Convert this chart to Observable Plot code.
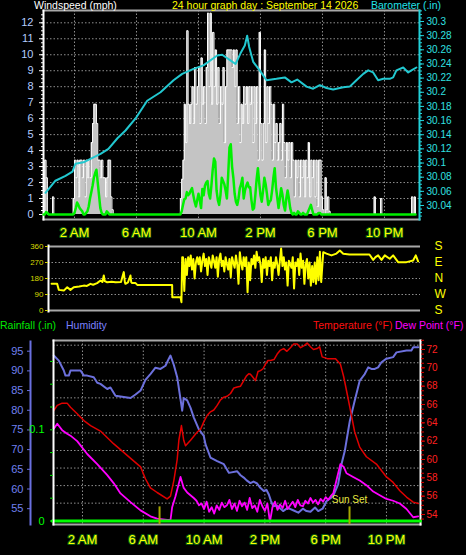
<!DOCTYPE html>
<html><head><meta charset="utf-8">
<script src="https://cdn.jsdelivr.net/npm/d3@7"></script>
<script src="https://cdn.jsdelivr.net/npm/@observablehq/plot@0.6"></script>
<style>
html,body{margin:0;padding:0;background:#000;}
#chart{position:relative;width:466px;height:555px;background:#000;overflow:hidden;font-family:"Liberation Sans",Arial,sans-serif;}
#chart svg{position:absolute;left:0;top:0;}
.lbl{position:absolute;font-size:10.5px;line-height:11px;white-space:nowrap;}
</style></head><body>
<div id="chart"></div>
<script>
// ---------- time axis ----------
const xTickHours = [2, 6, 10, 14, 18, 22];
const xTickLabels = ["2 AM", "6 AM", "10 AM", "2 PM", "6 PM", "10 PM"];

// ---------- windspeed (mph), 5-minute samples from midnight ----------
const windTicks = [0,1,2,3,4,5,6,7,8,9,10,11,12];
const windGust5min = [
/*00*/ 0,3.4,2.3,0,0,0,0,1.1,0,0,0,0,
/*01*/ 0,0,0,0,0,0,0,0,0,0,0,1.0,
/*02*/ 3.4,2.3,3.4,1.1,3.4,3.4,2.3,3.4,1.1,3.4,2.3,3.4,
/*03*/ 2.3,4.5,5.7,6.9,6.9,5.7,3.4,3.4,2.3,3.4,2.3,2.3,
/*04*/ 1.1,2.3,3.4,3.4,1.1,0.3,0,0,0,0,0,0,
/*05*/ 0,0,0,0,0,0,0,0,0,0,0,0,
/*06*/ 0,0,0,0,0,0,0,0,0,0,0,0,
/*07*/ 0,0,0,0,0,0,0,0,0,0,0,0,
/*08*/ 0,0,0,0,0,0,0,0,0,0,1.0,2.2,
/*09*/ 3.4,6.9,4.5,11.5,6.9,5.7,6.9,8.0,5.7,9.2,6.9,8.0,
/*10*/ 9.2,5.7,9.8,6.9,8.0,5.7,9.2,12.6,8.0,12.6,6.9,11.4,
/*11*/ 8.0,10.3,6.9,9.2,5.7,8.0,6.9,9.2,4.5,8.0,10.3,10.3,
/*12*/ 10.3,10.3,9.2,10.3,8.0,10.3,5.7,8.0,4.5,6.9,5.7,8.0,
/*13*/ 6.9,8.0,5.7,8.0,6.9,8.0,4.5,8.0,5.7,8.0,3.4,11.4,
/*14*/ 5.7,3.4,5.7,10.3,4.5,8.0,5.7,8.0,6.9,3.4,6.9,4.5,
/*15*/ 5.7,3.4,4.5,5.7,3.4,6.9,4.5,2.3,4.5,3.4,4.5,2.3,
/*16*/ 4.5,3.4,1.1,3.4,2.3,3.4,1.1,3.4,2.3,3.4,1.1,3.4,
/*17*/ 2.3,4.5,1.1,3.4,2.3,3.4,1.1,3.4,0.5,3.4,3.4,1.1,
/*18*/ 0.3,0,2.3,0.3,1.1,0.2,0,0,0,0,0,0,
/*19*/ 0,0,0,0,0,0,0,0,0,0,0,0,
/*20*/ 0,0,0,0,0,0,0,0,0,0,0,0,
/*21*/ 0,0,0,0,1.1,0,0,0,0,1.0,0,0,
/*22*/ 0,0,0,0,0,0,0,0,0,0,0,0,
/*23*/ 0,0,0,0,0,0,0,0,0,1.1,0,1.1,
/*24*/ 0
];
const windAvg5min = [
/*00*/ 0,0,0.15,0.1,0,0,0,0,0,0,0,0,
/*01*/ 0,0,0,0,0,0,0,0,0,0,0,0,
/*02*/ 0.1,0.4,0.75,0.6,0.4,0.3,0.2,0,0,0.1,0.2,0.5,
/*03*/ 1.0,1.4,1.8,2.3,2.6,2.8,2.0,1.2,0.4,0.1,0,0,
/*04*/ 0,0.2,0.1,0,0,0,0,0,0,0,0,0,
/*05*/ 0,0,0,0,0,0,0,0,0,0,0,0,
/*06*/ 0,0,0,0,0,0,0,0,0,0,0,0,
/*07*/ 0,0,0,0,0,0,0,0,0,0,0,0,
/*08*/ 0,0,0,0,0,0,0,0,0,0,0,0.2,
/*09*/ 0.6,0.95,1.0,1.4,1.2,1.3,1.5,1.65,1.2,0.8,0.5,0.9,
/*10*/ 1.3,0.9,0.4,1.6,1.2,1.8,2.0,2.1,1.3,1.0,1.8,2.8,
/*11*/ 3.5,3.3,1.5,0.9,0.6,1.2,2.3,2.1,1.9,1.5,1.0,2.5,
/*12*/ 4.2,4.4,3.0,2.3,1.3,0.8,0.6,1.0,1.65,1.9,2.3,1.0,
/*13*/ 1.5,1.8,2.0,1.7,1.7,0.9,0.3,0.4,1.2,2.2,2.9,2.0,
/*14*/ 1.2,0.8,1.5,2.3,1.9,1.3,0.6,0.8,0.9,1.5,2.3,2.9,
/*15*/ 1.7,1.05,0.4,1.0,1.65,1.25,0.6,0.25,1.0,1.5,1.0,0.4,
/*16*/ 0.1,0,0.1,0,0,0.2,0.1,0,0,0.1,0,0,
/*17*/ 0,0.2,0.4,0.6,0.3,0,0,0,0,0.1,0.1,0,
/*18*/ 0,0,0,0,0,0,0,0,0,0,0,0,
/*19*/ 0,0,0,0,0,0,0,0,0,0,0,0,
/*20*/ 0,0,0,0,0,0,0,0,0,0,0,0,
/*21*/ 0,0,0,0,0,0,0,0,0,0,0,0,
/*22*/ 0,0,0,0,0,0,0,0,0,0,0,0,
/*23*/ 0,0,0,0,0,0,0,0,0,0,0,0,
/*24*/ 0
];

// ---------- barometer (in) ----------
const baroTicks = [30.04,30.06,30.08,30.1,30.12,30.14,30.16,30.18,30.2,30.22,30.24,30.26,30.28,30.3];
const baroTimes = [0.13,0.77,1.42,1.87,2.06,2.58,3.03,3.68,4.19,4.77,5.29,5.94,6.69,7.55,8.39,8.95,9.68,10.32,11.21,11.53,12.06,12.39,12.71,12.99,13.14,13.27,13.53,13.95,14.39,15.03,15.57,16.0,16.37,16.97,17.4,17.83,18.26,18.69,19.34,19.76,20.19,20.63,20.95,21.27,21.59,21.92,22.34,22.56,22.77,23.21,23.53,23.74,24.06];
const baroValues = [30.058,30.075,30.082,30.088,30.099,30.101,30.106,30.113,30.12,30.135,30.146,30.163,30.188,30.2,30.217,30.226,30.233,30.238,30.252,30.253,30.245,30.24,30.255,30.266,30.28,30.264,30.243,30.231,30.217,30.219,30.221,30.214,30.218,30.208,30.205,30.21,30.206,30.204,30.207,30.208,30.217,30.226,30.231,30.228,30.217,30.219,30.219,30.221,30.231,30.235,30.228,30.231,30.235];

// ---------- wind direction (deg) ----------
const dirTicks = [0, 90, 180, 270, 360];
const dirTickLetters = ["S", "W", "N", "E", "S"];
const dirMorning = [[0.52,150],[0.88,150],[0.95,128],[0.99,116],[1.31,112],[1.53,131],[1.74,116],[1.95,131],[2.3,135],[2.6,140],[2.8,138],[3.03,150],[3.2,145],[3.46,154],[3.68,169],[3.8,160],[3.89,197],[3.95,165],[4.11,159],[4.4,162],[4.65,159],[5.0,160],[5.18,216],[5.25,160],[5.29,150],[5.45,158],[5.61,197],[5.66,160],[5.72,154],[5.94,154],[6.05,144],[8.3,144],[8.31,75],[8.84,75],[8.9,47],[8.95,300]];
const dirDaytime5min = [ // from 09:00
/*09*/ 300,110,290,200,300,250,310,230,290,180,270,300,
/*10*/ 260,300,220,280,320,250,290,200,300,270,240,310,
/*11*/ 280,240,300,190,290,320,250,280,220,300,260,230,
/*12*/ 290,187,300,270,240,310,260,150,328,270,230,300,
/*13*/ 250,300,103,270,170,290,260,310,240,330,280,300,
/*14*/ 260,160,290,240,300,200,280,250,300,170,270,240,
/*15*/ 300,260,200,280,349,250,300,230,270,140,280,260,
/*16*/ 240,300,124,270,250,290,200,320,240,280,150,260,
/*17*/ 290,180,270,140,250,160,270,150,300,170,330,160
];
const dirEvening = [[18.05,328],[18.26,320],[18.58,310],[18.9,320],[19.12,337],[19.34,319],[19.74,315],[21.03,315],[21.27,285],[21.42,300],[21.59,310],[21.81,285],[22.02,310],[22.34,291],[22.56,310],[22.88,272],[23.42,272],[23.85,281],[24.02,310],[24.17,276]];

// ---------- humidity (%) ----------
const humTicks = [55,60,65,70,75,80,85,90,95];
const humidity = [[0.11,93.9],[0.44,92.6],[0.77,90.1],[0.88,88.8],[1.1,88.8],[1.21,90.1],[1.87,90.1],[2.09,88.8],[2.31,88.8],[2.74,88.4],[2.97,87.0],[3.18,86.7],[3.63,85.4],[3.84,85.8],[4.17,83.7],[5.16,83.1],[5.49,84.0],[5.82,85.0],[6.14,87.7],[6.47,89.2],[6.8,90.8],[7.13,90.5],[7.46,91.3],[7.68,93.1],[7.79,93.9],[8.01,91.5],[8.23,88.4],[8.45,82.8],[8.56,79.9],[8.66,83.1],[8.89,82.5],[9.11,80.6],[9.32,78.2],[9.65,75.2],[9.98,73.5],[10.09,71.4],[10.42,68.0],[10.86,67.1],[11.3,66.3],[11.63,64.1],[12.18,64.5],[12.4,63.5],[12.61,62.9],[12.8,62.2],[13.05,61.5],[13.25,61.9],[13.49,61.4],[13.7,60.3],[13.93,59.5],[14.1,59.8],[14.26,58.6],[14.4,57.0],[14.55,55.6],[14.8,55.8],[15.2,54.4],[15.5,55.2],[15.86,54.6],[16.2,54.0],[16.5,55.0],[16.74,54.4],[17.0,54.2],[17.3,55.3],[17.51,54.4],[17.8,55.0],[18.05,56.9],[18.49,58.2],[18.82,61.2],[19.04,66.3],[19.26,69.7],[19.48,74.8],[19.59,77.3],[19.91,82.4],[20.24,87.5],[20.57,89.2],[20.8,90.9],[21.01,90.5],[21.23,90.5],[21.45,90.9],[21.67,92.2],[22.0,93.1],[22.44,93.5],[22.66,94.7],[23.32,95.2],[23.64,95.2],[23.76,96.0],[24.09,96.0]];

// ---------- temperature / dew point (F) ----------
const tempTicks = [54,56,58,60,62,64,66,68,70,72];
const temperature = [[0.11,65.35],[0.34,65.9],[0.66,66.15],[0.99,66.15],[1.21,65.7],[1.65,65.0],[2.09,64.25],[2.53,63.7],[3.18,63.1],[4.06,61.7],[4.94,60.45],[5.82,59.2],[6.14,57.9],[6.47,56.9],[6.91,56.4],[7.57,55.7],[7.79,56.0],[8.01,57.7],[8.23,60.0],[8.34,62.1],[8.51,63.7],[8.66,62.1],[8.78,61.5],[9.11,62.1],[9.55,63.0],[9.77,63.3],[9.98,64.1],[10.2,64.8],[10.42,65.2],[10.64,65.4],[10.86,65.9],[11.08,66.5],[11.3,66.8],[11.52,66.9],[11.74,67.2],[11.96,67.8],[12.18,67.9],[12.4,68.0],[12.61,68.6],[12.78,69.1],[12.94,69.35],[13.05,69.3],[13.2,69.0],[13.38,68.6],[13.55,69.6],[13.71,69.7],[13.88,69.9],[14.04,70.4],[14.2,70.8],[14.37,70.8],[14.6,70.9],[14.81,71.5],[15.0,71.9],[15.24,72.1],[15.45,71.8],[15.68,72.2],[15.9,72.6],[16.13,72.6],[16.35,72.2],[16.56,72.4],[16.78,72.7],[17.0,72.3],[17.2,72.0],[17.44,72.1],[17.6,72.3],[17.77,71.2],[18.1,71.0],[18.65,71.0],[18.97,70.4],[19.19,69.0],[19.41,67.2],[19.63,65.35],[19.91,63.0],[20.24,61.35],[20.68,60.3],[21.34,59.5],[22.0,58.1],[22.44,57.5],[22.88,56.6],[23.32,55.9],[23.76,55.35],[24.09,55.2]];
const dewMorning = [[0.11,63.35],[0.34,63.9],[0.66,63.2],[0.99,62.8],[1.21,62.6],[1.65,62.0],[2.31,60.6],[2.97,59.5],[3.63,58.3],[4.06,57.4],[4.5,56.3],[5.16,55.35],[5.82,54.45],[6.47,53.8],[6.91,53.55],[7.57,53.4],[7.79,53.4],[7.9,54.8],[8.12,56.0],[8.45,58.1],[8.66,56.9],[8.89,56.4],[9.32,55.8]];
const dewDaytime10min = [ // from 09:30
55.5,55.0,55.2,54.6,55.4,54.3,54.8,54.1,55.0,54.5,55.3,54.8,55.0,55.6,54.6,55.2,54.4,55.5,54.9,55.3,54.5,55.8,54.7,55.0,54.3,55.6,54.9,54.4,55.2,53.2,54.8,55.4,54.5,55.1,54.7,55.5,54.6,55.0,55.4,54.8,55.6,55.0,54.9,55.5,55.2,55.8,55.3,55.6,55.1,55.7,55.4,55.9,55.6,56.0,56.3];
const dewEvening = [[18.97,59.5],[19.19,59.2],[19.37,58.5],[19.81,58.1],[20.24,57.7],[20.68,57.2],[21.13,56.5],[21.56,56.1],[22.0,55.7],[22.44,55.5],[22.88,55.2],[23.32,54.6],[23.76,53.7],[24.09,53.8]];

// ---------- rainfall (in) ----------
const rainTicks = [0, 0.1];
const rainMinorTicks = [0.025,0.05,0.075,0.125,0.15,0.175];
const rainfall = [[0,0],[24.24,0]];

// ---------- sun ----------
const sunTimes = [7.07, 19.57];
const sunLabels = ["", "Sun Set"];

// ================= build =================
const W = 466, H = 555;
const FONT = '"Liberation Sans", Arial, sans-serif';
const GRID = {stroke: "#8f8f8f", strokeOpacity: 1, strokeDasharray: "1.5,2"};
const base = (o) => Object.assign({
  width: W, height: H,
  style: {background: "transparent", color: "white", fontFamily: FONT, fontSize: "11px", overflow: "visible"}
}, o);
const noAxis = (s) => Object.assign({axis: null, label: null}, s);

const seq = (vals, start, step) => vals.map((v, i) => ({t: start + i * step, v}));
const pairs = (arr) => arr.map(([t, v]) => ({t, v}));

const gust = seq(windGust5min, 0, 5/60);
const avg = seq(windAvg5min, 0, 5/60);
const baro = baroTimes.map((t, i) => ({t, v: baroValues[i]}));
const dir = [...pairs(dirMorning), ...seq(dirDaytime5min, 9, 5/60), ...pairs(dirEvening)];
const hum = pairs(humidity);
const temp = pairs(temperature);
const dew = [...pairs(dewMorning), ...seq(dewDaytime10min, 9.5, 1/6), ...pairs(dewEvening)];
const rain = pairs(rainfall);
const sun = sunTimes.map((t, i) => ({t, label: sunLabels[i]}));

const xTopMax = 24.26, xBotMax = 24.24;
const xLabel = d => xTickLabels[xTickHours.indexOf(d)];
const fmtBaro = d => String(Math.round(d * 100) / 100);
const windMinor = d3.range(0, 12.75, 0.25);
const baroMinor = d3.range(30.025, 30.316, 0.005);
const tempMinor = d3.range(53.5, 73.01, 0.5);

const topX = noAxis({domain: [0, xTopMax], range: [43, 419]});
const topFrame = {marginTop: 10, marginBottom: H - 219, marginLeft: 43, marginRight: W - 419, x: topX};
const windY = noAxis({domain: [0, 12], range: [214, 22.3]});

const charts = [];

// top: gusts + grid
charts.push(Plot.plot(base({...topFrame, y: windY, marks: [
  Plot.gridY(windTicks.slice(1), GRID),
  Plot.gridX(xTickHours, GRID),
  Plot.areaY(gust, {x: "t", y: "v", curve: "step-after", fill: "#c4c4c4"}),
  Plot.lineY(gust, {x: "t", y: "v", curve: "step-after", stroke: "#ffffff", strokeWidth: 1}),
  Plot.frame({anchor: "top", stroke: "#a8a8a8", strokeWidth: 2}),
  Plot.frame({anchor: "bottom", stroke: "#a8a8a8", strokeWidth: 2}),
  Plot.frame({anchor: "left", stroke: "#ffffff", strokeWidth: 2}),
  Plot.axisY(windMinor, {anchor: "left", tickSize: 2, stroke: "#ffffff", tickFormat: () => "", label: null}),
  Plot.axisY(windTicks, {anchor: "left", tickSize: 4, tickPadding: 6, stroke: "#ffffff", fill: "#b4ccff", fontSize: 11, label: null}),
  Plot.axisX(xTickHours, {anchor: "bottom", tickSize: 0, tickPadding: 8, tickFormat: xLabel, fill: "#ffff00", textStroke: "#0b5c10", textStrokeWidth: 2, fontSize: 13, label: null})
]})));

// top: barometer
charts.push(Plot.plot(base({...topFrame, y: noAxis({domain: [30.04, 30.3], range: [205, 21]}), marks: [
  Plot.lineY(baro, {x: "t", y: "v", stroke: "#22c8d0", strokeWidth: 2}),
  Plot.frame({anchor: "right", stroke: "#22d0d8", strokeWidth: 2}),
  Plot.axisY(baroMinor, {anchor: "right", tickSize: 2, stroke: "#22d0d8", tickFormat: () => "", label: null}),
  Plot.axisY(baroTicks, {anchor: "right", tickSize: 4, tickPadding: 3, stroke: "#22d0d8", fill: "#30e0e0", fontSize: 10, tickFormat: fmtBaro, label: null})
]})));

// top: average wind
charts.push(Plot.plot(base({...topFrame, y: windY, marks: [
  Plot.lineY(avg, {x: "t", y: "v", stroke: "#00f000", strokeWidth: 2.5})
]})));

// middle: wind direction
charts.push(Plot.plot(base({marginTop: 245, marginBottom: H - 311, marginLeft: 48, marginRight: W - 420,
  x: topX,
  y: noAxis({domain: [0, 360], range: [310, 246]}),
  marks: [
    Plot.gridY([90, 180, 270], GRID),
    Plot.ruleY([0, 360], {stroke: "#a8a8a8", strokeWidth: 2}),
    Plot.frame({anchor: "left", stroke: "#ffffff", strokeWidth: 2}),
    Plot.lineY(dir, {x: "t", y: "v", stroke: "#ffff00", strokeWidth: 2}),
    Plot.axisY(dirTicks, {anchor: "left", tickSize: 3, tickPadding: 2, stroke: "#d0d000", fill: "#d8d800", fontSize: 8, label: null}),
    Plot.axisY(dirTicks, {anchor: "right", tickSize: 0, tickPadding: 14, fill: "#ffff00", fontSize: 12, label: null,
      tickFormat: d => dirTickLetters[dirTicks.indexOf(d)]})
  ]})));

const botX = noAxis({domain: [0, xBotMax], range: [51.6, 420]});
const botFrame = {marginTop: 340, marginBottom: H - 524, marginLeft: 53, marginRight: W - 420, x: botX};

// bottom: grid + x labels
charts.push(Plot.plot(base({...botFrame, y: noAxis({domain: [0, 10], range: [520.2, 344.7]}), marks: [
  Plot.gridY([1,2,3,4,5,6,7,8,9,10], GRID),
  Plot.gridX(xTickHours, GRID),
  Plot.frame({anchor: "top", stroke: "#a8a8a8", strokeWidth: 2}),
  Plot.frame({anchor: "bottom", stroke: "#a8a8a8", strokeWidth: 2}),
  Plot.axisX(xTickHours, {anchor: "bottom", tickSize: 0, tickPadding: 10, tickFormat: xLabel, fill: "#ffff00", textStroke: "#0b5c10", textStrokeWidth: 2, fontSize: 13, label: null})
]})));

// humidity axis (outside the panel)
charts.push(Plot.plot(base({marginTop: 341, marginBottom: H - 524, marginLeft: 30, marginRight: W - 31,
  x: noAxis({domain: [0, 1]}), y: noAxis({domain: [55, 95], range: [508.2, 350.7]}), marks: [
  Plot.frame({anchor: "left", stroke: "#6a70e0", strokeWidth: 2}),
  Plot.axisY(humTicks, {anchor: "left", tickSize: 3, tickPadding: 4, stroke: "#6a70e0", fill: "#7080f0", fontSize: 11, label: null})
]})));

// humidity line
charts.push(Plot.plot(base({...botFrame, y: noAxis({domain: [55, 95], range: [508.2, 350.7]}), marks: [
  Plot.lineY(hum, {x: "t", y: "v", stroke: "#6c70dc", strokeWidth: 2})
]})));

// temperature + dew point
charts.push(Plot.plot(base({...botFrame, y: noAxis({domain: [54, 72], range: [514, 349]}), marks: [
  Plot.lineY(temp, {x: "t", y: "v", stroke: "#e00000", strokeWidth: 1.5}),
  Plot.lineY(dew, {x: "t", y: "v", stroke: "#ff00ff", strokeWidth: 1.8}),
  Plot.frame({anchor: "right", stroke: "#ffffff", strokeWidth: 2}),
  Plot.axisY(tempMinor, {anchor: "right", tickSize: 3, stroke: "#e00000", tickFormat: () => "", label: null}),
  Plot.axisY(tempTicks, {anchor: "right", tickSize: 4, tickPadding: 2, stroke: "#e00000", fill: "#ff2020", fontSize: 10, label: null})
]})));

// rainfall + sun
charts.push(Plot.plot(base({...botFrame, y: noAxis({domain: [0, 0.1], range: [520.5, 429.3]}), marks: [
  Plot.lineY(rain, {x: "t", y: "v", stroke: "#00ff00", strokeWidth: 3}),
  Plot.frame({anchor: "left", stroke: "#ffffff", strokeWidth: 2}),
  Plot.ruleX(sun, {x: "t", y1: -0.004, y2: 0.0155, stroke: "#a8a800", strokeWidth: 2}),
  Plot.text(sun.filter(d => d.label), {x: "t", text: "label", frameAnchor: "bottom", dy: -22, fill: "#e8e840", fontSize: 10}),
  Plot.axisY(rainMinorTicks, {anchor: "left", tickSize: 3, stroke: "#00e000", tickFormat: () => "", label: null}),
  Plot.axisY(rainTicks, {anchor: "left", tickSize: 3, tickPadding: 6, stroke: "#00e000", fill: "#00ff00", fontSize: 11, tickFormat: d => String(d), label: null})
]})));

const root = document.getElementById("chart");
charts.forEach(c => root.appendChild(c));

// header texts
const labels = [
  ["Windspeed (mph)", 34, 0, "#ffffff"],
  ["24 hour graph day : September 14 2026", 172, 0, "#ffff00"],
  ["Barometer (.in)", 371, 0, "#22e0e8"],
  ["Rainfall (.in)", 0, 320, "#00e800"],
  ["Humidity", 66, 320, "#7c80ff"],
  ["Temperature (°F)", 313, 320, "#ff1010"],
  ["Dew Point (°F)", 395, 320, "#ff00ff"]
];
for (const [t, x, y, c] of labels) {
  const d = document.createElement("div");
  d.className = "lbl";
  d.textContent = t;
  d.style.left = x + "px"; d.style.top = y + "px"; d.style.color = c;
  root.appendChild(d);
}
</script>
</body></html>
